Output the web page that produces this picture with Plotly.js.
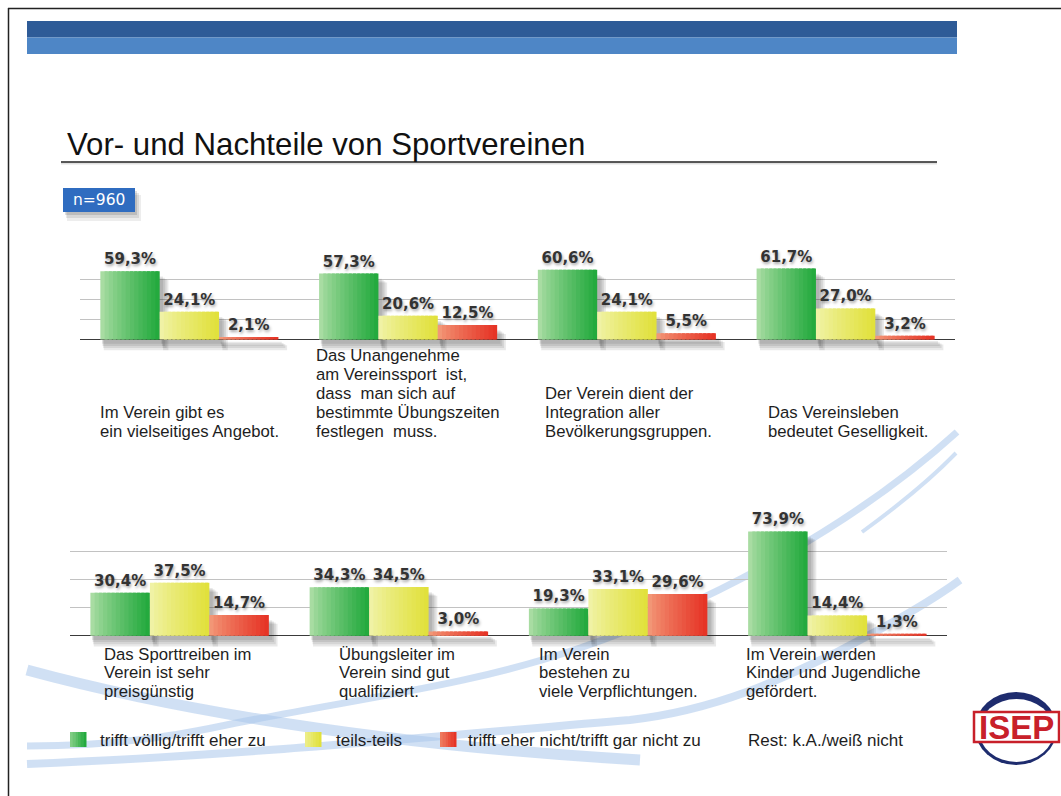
<!DOCTYPE html>
<html>
<head>
<meta charset="utf-8">
<script src="https://cdn.plot.ly/plotly-3.0.1.min.js"></script>
<style>html,body{margin:0;padding:0;background:#fff}#chart{width:1061px;height:796px}</style>
</head>
<body>
<div id="chart"></div>
<script>
// ---------------- data ----------------
const chartTitle = 'Vor- und Nachteile von Sportvereinen';
const sampleLabel = 'n=960';
const seriesNames = ['trifft völlig/trifft eher zu', 'teils-teils', 'trifft eher nicht/trifft gar nicht zu'];
const restNote = 'Rest: k.A./weiß nicht';
const logoText = 'ISEP';

const categoriesTop = [
  'Im Verein gibt es<br>ein vielseitiges Angebot.',
  'Das Unangenehme<br>am Vereinssport  ist,<br>dass  man sich auf<br>bestimmte Übungszeiten<br>festlegen  muss.',
  'Der Verein dient der<br>Integration aller<br>Bevölkerungsgruppen.',
  'Das Vereinsleben<br>bedeutet Geselligkeit.'
];
const topGreen  = [59.3, 57.3, 60.6, 61.7];
const topYellow = [24.1, 20.6, 24.1, 27.0];
const topRed    = [2.1, 12.5, 5.5, 3.2];

const categoriesBottom = [
  'Das Sporttreiben im<br>Verein ist sehr<br>preisgünstig',
  'Übungsleiter im<br>Verein sind gut<br>qualifiziert.',
  'Im Verein<br>bestehen zu<br>viele Verpflichtungen.',
  'Im Verein werden<br>Kinder und Jugendliche<br>gefördert.'
];
const bottomGreen  = [30.4, 34.3, 19.3, 73.9];
const bottomYellow = [37.5, 34.5, 33.1, 14.4];
const bottomRed    = [14.7, 3.0, 29.6, 1.3];

// ---------------- styling / layout helpers ----------------
const W = 1061, H = 796;
const px = x => x / W;
const py = y => 1 - y / H;
const gradients = [
  [[168, 220, 162], [36, 170, 62]],
  [[240, 242, 165], [225, 225, 60]],
  [[242, 150, 118], [230, 52, 38]]
];
function gradColor(s, t) {
  const a = gradients[s][0], b = gradients[s][1];
  const c = a.map((v, i) => Math.round(v + (b[i] - v) * t));
  return 'rgb(' + c.join(',') + ')';
}
const fmt = v => v.toFixed(1).replace('.', ',') + '%';
const labelFont = 'Liberation Sans, Arial, Helvetica, sans-serif';

const groupWidth = 0.814, barW = groupWidth / 3, N = 14, stripW = barW / N;
const shadowPx = 12;
const traces = [];
function buildRow(cats, seriesVals, xa, ya, scale, catPx) {
  const u = 1 / scale;
  const c = 1 / catPx;
  seriesVals.forEach((vals, s) => {
    const start = -groupWidth / 2 + s * barW;
    for (let k = 1; k <= 4; k++) {
      traces.push({
        type: 'bar', x: cats, y: vals.map(v => Math.max(v - 3 * u, 0) + (k + 1) * u), base: -(2 + 2.2 * k) * u,
        xaxis: xa, yaxis: ya, offset: start + (1 + 0.6 * k) * c, width: barW + (0.5 + 1.2 * k) * c,
        marker: {color: 'rgba(40,40,40,0.1)', line: {width: 0}}, hoverinfo: 'skip', showlegend: false
      });
    }
  });
  seriesVals.forEach((vals, s) => {
    const start = -groupWidth / 2 + s * barW;
    for (let j = 0; j < N; j++) {
      traces.push({
        type: 'bar', x: cats, y: vals, xaxis: xa, yaxis: ya,
        offset: start + j * stripW, width: j === N - 1 ? stripW : stripW * 1.7,
        marker: {color: gradColor(s, Math.pow(j / (N - 1), 0.85)), line: {width: 0}},
        hoverinfo: 'skip', showlegend: false
      });
    }
    traces.push({
      type: 'bar', x: cats, y: vals, xaxis: xa, yaxis: ya,
      offset: start, width: barW,
      marker: {color: 'rgba(0,0,0,0)', line: {width: 0}},
      text: vals.map(fmt), textposition: 'outside', cliponaxis: false, constraintext: 'none',
      textfont: {family: 'DejaVu Sans, Verdana, sans-serif', size: 15, weight: 'bold', color: '#333',
                 shadow: '1px 2px 3px rgba(0,0,0,0.35)'},
      hoverinfo: 'skip', showlegend: false, name: seriesNames[s]
    });
  });
}

// ---------------- shapes ----------------
function pathPx(d) {
  return d.replace(/(-?\d+(?:\.\d+)?),(-?\d+(?:\.\d+)?)/g, (m, x, y) => px(+x).toFixed(5) + ',' + py(+y).toFixed(5));
}
function rectPx(x0, y0, x1, y1, fill, extra) {
  return Object.assign({type: 'rect', xref: 'paper', yref: 'paper', x0: px(x0), x1: px(x1), y0: py(y1), y1: py(y0),
    fillcolor: fill, line: {width: 0}}, extra || {});
}
function linePx(x0, y0, x1, y1, color, w) {
  return {type: 'line', xref: 'paper', yref: 'paper', x0: px(x0), x1: px(x1), y0: py(y0), y1: py(y1), line: {color: color, width: w}};
}
const swoosh = 'rgba(170,198,235,0.55)';
const shapes = [
  {type: 'path', xref: 'paper', yref: 'paper', layer: 'below', fillcolor: 'rgba(0,0,0,0)',
   path: pathPx('M27,670 C130,698 330,742 640,760'), line: {color: swoosh, width: 11}},
  {type: 'path', xref: 'paper', yref: 'paper', layer: 'below', fillcolor: 'rgba(0,0,0,0)',
   path: pathPx('M27,746 C120,746 180,735 236,723 C380,695 470,685 580,648 C720,600 860,520 957,432'), line: {color: swoosh, width: 7}},
  {type: 'path', xref: 'paper', yref: 'paper', layer: 'below', fillcolor: 'rgba(0,0,0,0)',
   path: pathPx('M862,532 C895,508 928,482 956,453'), line: {color: swoosh, width: 4}},
  {type: 'path', xref: 'paper', yref: 'paper', layer: 'below', fillcolor: 'rgba(0,0,0,0)',
   path: pathPx('M27,764 C250,755 450,735 630,720 C720,710 790,675 835,653 C880,630 930,602 960,580'), line: {color: swoosh, width: 8}},
  linePx(8.5, 8, 8.5, 796, '#222', 1.5),
  linePx(8, 8.5, 1061, 8.5, '#222', 1.5),
  rectPx(27, 21, 957, 37.5, '#2E5B97'),
  rectPx(27, 37.5, 957, 54, '#4E86C6'),
  linePx(61, 163.5, 937, 163.5, 'rgba(0,0,0,0.12)', 2),
  linePx(61, 162, 937, 162, '#222', 1.3),
  rectPx(67, 195, 141, 221, 'rgba(0,0,0,0.07)'),
  rectPx(66, 193, 139, 218, 'rgba(0,0,0,0.09)'),
  rectPx(65, 191, 137, 215, 'rgba(0,0,0,0.12)'),
  rectPx(63, 188, 135, 212, '#2F6CC0'),
  {type: 'circle', xref: 'paper', yref: 'paper', x0: px(975), x1: px(1057), y0: py(765), y1: py(692), fillcolor: '#1E2C6E', line: {width: 0}},
  {type: 'circle', xref: 'paper', yref: 'paper', x0: px(979), x1: px(1054), y0: py(762), y1: py(699), fillcolor: '#fff', line: {width: 0}},
  rectPx(974, 712, 1059, 742, '#fff', {line: {color: '#C8202A', width: 2.5}})
];
const legendSquares = [70, 305, 440];
legendSquares.forEach((x0, s) => {
  const n = 6, w = 16 / n;
  for (let j = 0; j < n; j++) shapes.push(rectPx(x0 + j * w, 732, x0 + (j + 1) * w + 0.5, 747, gradColor(s, 0.3 + 0.7 * j / (n - 1))));
});

// ---------------- annotations ----------------
const annotations = [];
function addText(text, x, y, opts) {
  annotations.push(Object.assign({text: text, xref: 'paper', yref: 'paper', x: px(x), y: py(y), showarrow: false,
    xanchor: 'left', yanchor: 'middle', align: 'left',
    font: {family: labelFont, size: 16.7, color: '#1e1e1e'}}, opts || {}));
}
addText(chartTitle, 65, 144, {font: {family: labelFont, size: 31.2, color: '#111'}});
addText(sampleLabel, 98.5, 200.5, {xanchor: 'center', font: {family: 'DejaVu Sans, Verdana, sans-serif', size: 15.5, color: '#fff'}});

const topLabelX = [97.5, 314, 543, 766];
categoriesTop.forEach((c, i) => {
  const lines = c.split('<br>');
  lines.forEach((ln, k) => addText(ln, topLabelX[i], 431.5 - (lines.length - 1 - k) * 19));
});
const bottomLabelX = [101.5, 336.5, 537.5, 744];
categoriesBottom.forEach((c, i) => {
  const lines = c.split('<br>');
  lines.forEach((ln, k) => addText(ln, bottomLabelX[i], 654 + k * 18.5));
});
const legendTextX = [98, 334, 466];
seriesNames.forEach((n, i) => addText(n, legendTextX[i], 740, {font: {family: labelFont, size: 17, color: '#1e1e1e'}}));
addText(restNote, 746, 740, {font: {family: labelFont, size: 17, color: '#1e1e1e'}});
addText(logoText, 1016.5, 727.5, {xanchor: 'center', font: {family: labelFont, size: 33, weight: 'bold', color: '#C8202A'}});

// ---------------- axes ----------------
const topBase = 339.5, topScale = 1.15, topMax = 70, topL = 80, topR = 955;
const botBase = 635.7, botScale = 1.41, botMax = 80.3, botL = 70, botR = 947;
buildRow(categoriesTop, [topGreen, topYellow, topRed], 'x', 'y', topScale, (topR - topL) / 4);
buildRow(categoriesBottom, [bottomGreen, bottomYellow, bottomRed], 'x2', 'y2', botScale, (botR - botL) / 4);

const xCommon = {type: 'category', showticklabels: false, showgrid: false, zeroline: false, ticks: '',
  showline: false, fixedrange: true};
const yCommon = {showticklabels: false, showgrid: true, gridcolor: '#c2c2c2', gridwidth: 1,
  zeroline: true, zerolinecolor: '#3a3a3a', zerolinewidth: 1.5,
  showline: false, ticks: '', tick0: 0, fixedrange: true};

const layout = {
  width: W, height: H, margin: {l: 0, r: 0, t: 0, b: 0},
  paper_bgcolor: '#fff', plot_bgcolor: 'rgba(0,0,0,0)',
  barmode: 'overlay', showlegend: false,
  xaxis: Object.assign({}, xCommon, {domain: [px(topL), px(topR)], anchor: 'y'}),
  yaxis: Object.assign({}, yCommon, {domain: [py(topBase + shadowPx), py(topBase - topMax * topScale)],
    range: [-shadowPx / topScale, topMax], dtick: 17.4, anchor: 'x'}),
  xaxis2: Object.assign({}, xCommon, {domain: [px(botL), px(botR)], anchor: 'y2'}),
  yaxis2: Object.assign({}, yCommon, {domain: [py(botBase + shadowPx), py(botBase - botMax * botScale)],
    range: [-shadowPx / botScale, botMax], dtick: 20, anchor: 'x2'}),
  shapes: shapes, annotations: annotations,
  font: {family: labelFont}
};
Plotly.newPlot('chart', traces, layout, {displayModeBar: false, staticPlot: true});
</script>
</body>
</html>
